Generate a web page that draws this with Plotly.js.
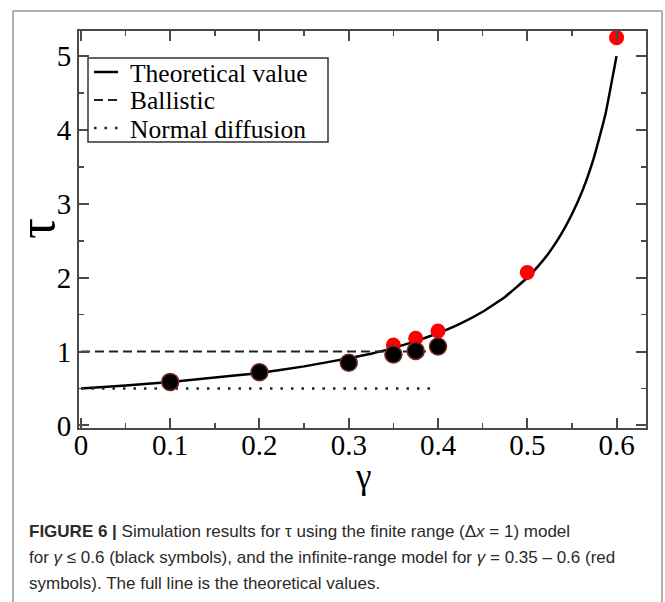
<!DOCTYPE html>
<html>
<head>
<meta charset="utf-8">
<script src="https://cdn.plot.ly/plotly-3.0.1.min.js"></script>
<style>html,body{margin:0;padding:0;background:#fff;}#chart{width:665px;height:602px;}</style>
</head>
<body>
<div id="chart"></div>
<script>
// Theoretical curve
const theoryGamma = [0, 0.05, 0.1, 0.15, 0.2, 0.25, 0.3, 0.325, 0.35, 0.375, 0.4, 0.425, 0.45, 0.475, 0.5, 0.5125, 0.525, 0.5375, 0.55, 0.5625, 0.575, 0.5875, 0.6];
const theoryTau   = [0.50, 0.54, 0.59, 0.65, 0.71, 0.80, 0.91, 0.97, 1.05, 1.14, 1.25, 1.38, 1.54, 1.74, 2.00, 2.16, 2.35, 2.58, 2.86, 3.20, 3.64, 4.21, 5.00];
// Ballistic and normal diffusion reference lines
const ballisticGamma = [0, 0.4];
const ballisticTau   = [1, 1];
const normalGamma = [0, 0.4];
const normalTau   = [0.5, 0.5];
// Finite-range model (black symbols)
const finiteGamma = [0.1, 0.2, 0.3, 0.35, 0.375, 0.4];
const finiteTau   = [0.59, 0.72, 0.85, 0.96, 1.01, 1.07];
// Infinite-range model (red symbols)
const infiniteGamma = [0.35, 0.375, 0.4, 0.5, 0.6];
const infiniteTau   = [1.09, 1.18, 1.28, 2.07, 5.25];
// Tick values
const xTicks = [0, 0.1, 0.2, 0.3, 0.4, 0.5, 0.6];
const xTickText = ['0', '0.1', '0.2', '0.3', '0.4', '0.5', '0.6'];
const yTicks = [0, 1, 2, 3, 4, 5];
const yTickText = ['0', '1', '2', '3', '4', '5'];
const xTitle = 'γ';
const yTitle = 'τ';
const legendNames = ['Theoretical value', 'Ballistic', 'Normal diffusion'];
const captionLines = [
  '<b>FIGURE 6 |</b> Simulation results for τ using the finite range (Δ<i>x</i> = 1) model',
  'for <i>γ</i> ≤ 0.6 (black symbols), and the infinite-range model for <i>γ</i> = 0.35 – 0.6 (red',
  'symbols). The full line is the theoretical values.'
];

const serif = 'Liberation Serif, Times New Roman, serif';
const axisColor = '#4a4a4a';

const lineStyles = [
  {color: '#000', width: 2.5},
  {color: '#222', width: 2, dash: '9px,5px'},
  {color: '#222', width: 2.5, dash: '2.5px,8px'}
];

const traces = [
  {x: theoryGamma, y: theoryTau, mode: 'lines', name: legendNames[0], showlegend: false,
   line: Object.assign({shape: 'spline', smoothing: 0.3}, lineStyles[0])},
  {x: ballisticGamma, y: ballisticTau, mode: 'lines', name: legendNames[1], showlegend: false,
   line: lineStyles[1]},
  {x: normalGamma, y: normalTau, mode: 'lines', name: legendNames[2], showlegend: false,
   line: lineStyles[2]},
  {x: infiniteGamma, y: infiniteTau, mode: 'markers', showlegend: false,
   marker: {color: '#ff0000', size: 15, line: {width: 0}}},
  {x: finiteGamma, y: finiteTau, mode: 'markers', showlegend: false,
   marker: {color: '#000', size: 17, line: {color: '#7a2a2a', width: 1.5}}}
];

function px2x(px){ return (px - 79) / 567; }
function py2y(py){ return (428 - py) / 397; }

const frameColor = '#b0b0b0';
const shapes = [
  {type: 'line', xref: 'paper', yref: 'paper', x0: px2x(13), x1: px2x(662), y0: py2y(11), y1: py2y(11), line: {color: frameColor, width: 2}},
  {type: 'line', xref: 'paper', yref: 'paper', x0: px2x(13), x1: px2x(13), y0: py2y(11), y1: py2y(610), line: {color: frameColor, width: 2}},
  {type: 'line', xref: 'paper', yref: 'paper', x0: px2x(662), x1: px2x(662), y0: py2y(11), y1: py2y(610), line: {color: frameColor, width: 2}},
  // legend box
  {type: 'rect', xref: 'paper', yref: 'paper', x0: px2x(88), x1: px2x(328), y0: py2y(58), y1: py2y(142),
   fillcolor: '#fff', line: {color: '#333', width: 1.5}, layer: 'above'}
];

const legendRowY = [72, 100, 128];
legendNames.forEach((n, i) => {
  shapes.push({type: 'line', xref: 'paper', yref: 'paper', x0: px2x(94), x1: px2x(118),
    y0: py2y(legendRowY[i]), y1: py2y(legendRowY[i]), line: lineStyles[i], layer: 'above'});
});

const annotations = legendNames.map((n, i) => ({
  text: n, xref: 'paper', yref: 'paper', x: px2x(129), y: py2y(legendRowY[i] + 1),
  xanchor: 'left', yanchor: 'middle', showarrow: false, borderpad: 0,
  font: {family: serif, size: 25.5, color: '#000'}
}));

// axis titles
annotations.push({text: xTitle, xref: 'paper', yref: 'paper', x: 0.5, y: py2y(476),
  xanchor: 'center', yanchor: 'middle', showarrow: false, borderpad: 0,
  font: {family: serif, size: 35, color: '#000'}});
annotations.push({text: yTitle, xref: 'paper', yref: 'paper', x: px2x(37), y: py2y(229),
  xanchor: 'center', yanchor: 'middle', showarrow: false, textangle: -90,
  font: {family: serif, size: 52, color: '#000'}});

const captionY = [531, 557, 583];
captionLines.forEach((t, i) => annotations.push({
  text: t, xref: 'paper', yref: 'paper', x: px2x(27), y: py2y(captionY[i]),
  xanchor: 'left', yanchor: 'middle', showarrow: false, align: 'left',
  font: {family: 'Liberation Sans, Arial, sans-serif', size: 17, color: '#2a2a2a'}
}));

const axisCommon = {
  showline: true, linecolor: axisColor, linewidth: 2, mirror: 'ticks',
  ticks: 'inside', ticklen: 10, tickwidth: 2, tickcolor: axisColor,
  showgrid: false, zeroline: false,
  tickfont: {family: serif, size: 29, color: '#000'}
};

const layout = {
  width: 665, height: 602,
  margin: {l: 79, r: 19, t: 31, b: 174},
  paper_bgcolor: '#fff', plot_bgcolor: '#fff',
  showlegend: false,
  xaxis: Object.assign({}, axisCommon, {
    range: [-0.0022, 0.633], tickvals: xTicks, ticktext: xTickText, ticklabelstandoff: -10,
    minor: {dtick: 0.05, tick0: 0, ticks: 'inside', ticklen: 5, tickwidth: 1.5, tickcolor: axisColor}
  }),
  yaxis: Object.assign({}, axisCommon, {
    range: [-0.034, 5.34], tickvals: yTicks, ticktext: yTickText,
    minor: {dtick: 0.5, tick0: 0, ticks: 'inside', ticklen: 5, tickwidth: 1.5, tickcolor: axisColor}
  }),
  shapes: shapes,
  annotations: annotations
};

Plotly.newPlot('chart', traces, layout, {displayModeBar: false, staticPlot: true});
</script>
</body>
</html>
